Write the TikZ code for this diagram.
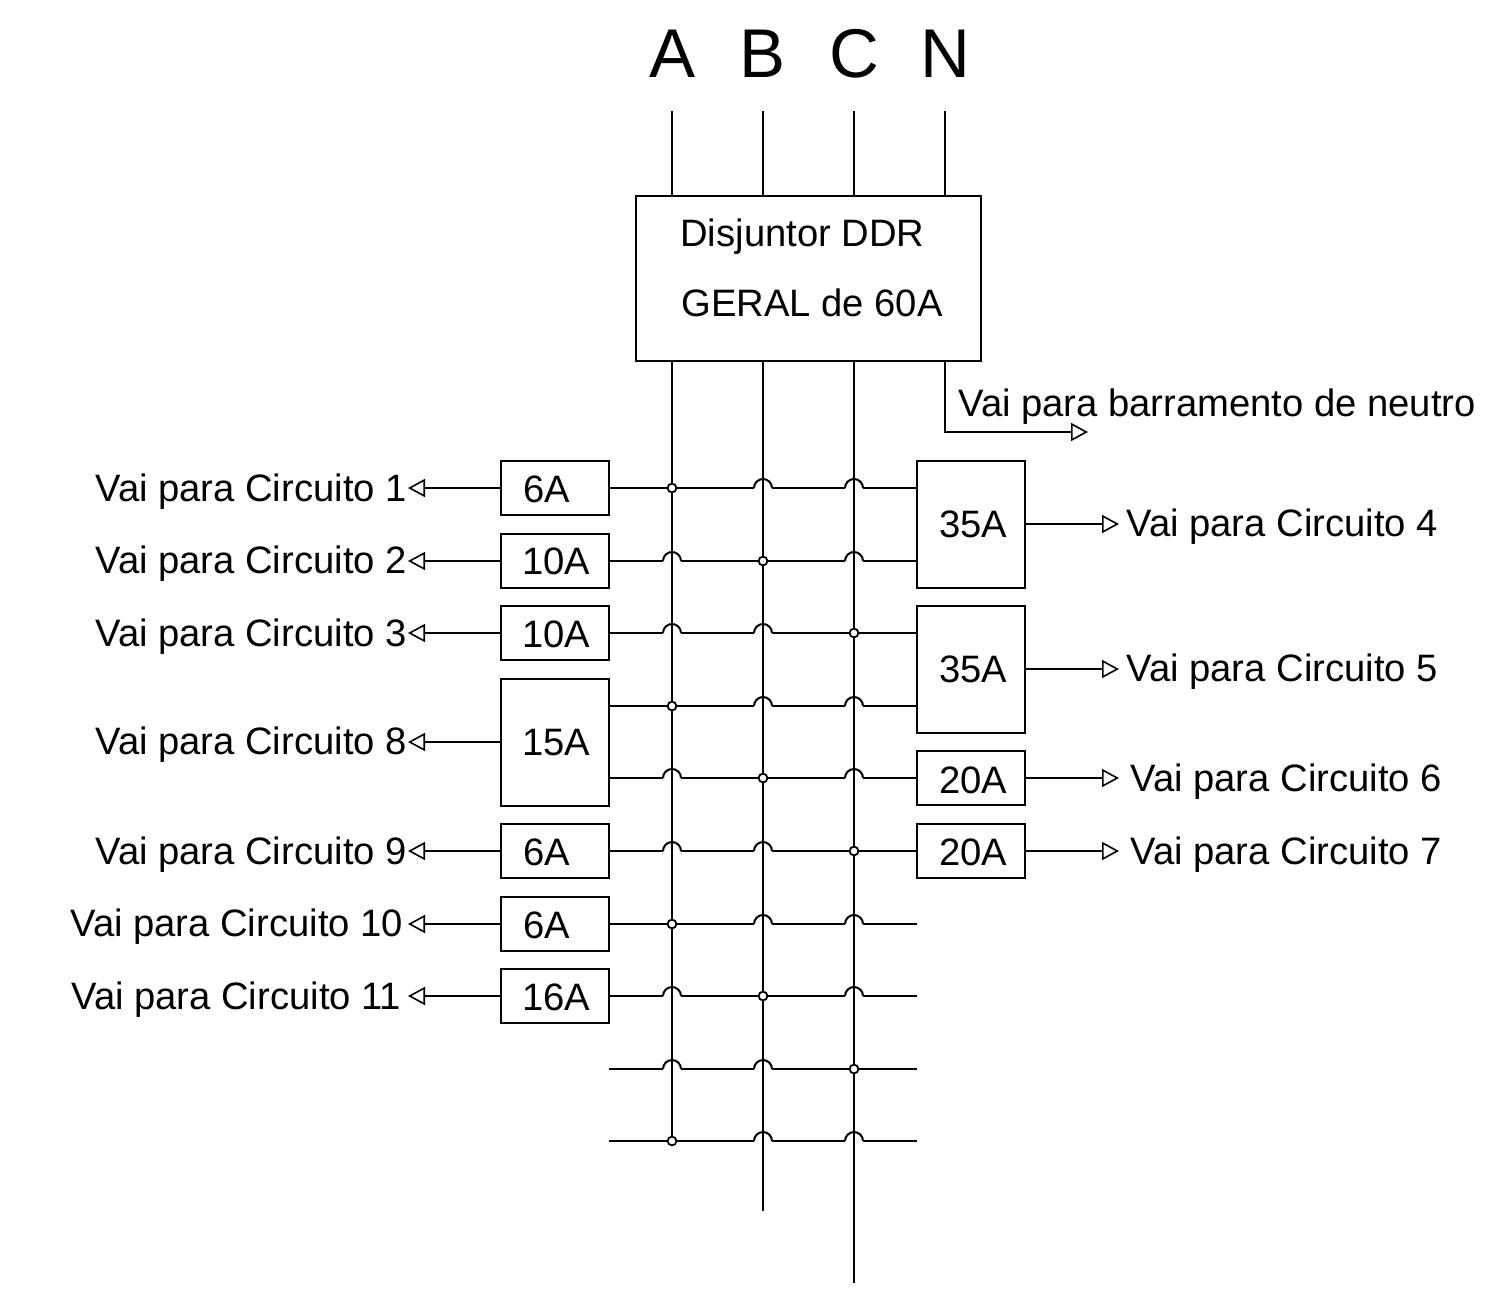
\documentclass[tikz,border=0pt]{standalone}
\usepackage{fontspec}
\setmainfont{Liberation Sans}
\usetikzlibrary{arrows.meta,calc}
\tikzset{
  wire/.style={line width=1pt,black},
  feed/.style={wire,-{Triangle[open,fill=white,length=8.5pt,width=9pt,line width=0.8pt]}},
  box/.style={draw,line width=1pt,inner sep=0pt,fill=white},
  lab/.style={anchor=base west,inner sep=0pt,font=\fontsize{19.1}{22}\selectfont},
  phase/.style={anchor=base,inner sep=0pt,font=\fontsize{34.5}{40}\selectfont},
  dotj/.style={circle,draw,fill=white,line width=0.9pt,minimum size=4.4pt,inner sep=0pt}
}
\newcommand{\bx}[5]{% name, x0, y0, x1, y1
  \node[box,minimum width={(#4-#2)*0.5pt},minimum height={(#5-#3)*0.5pt}] (#1) at ({(#2+#4)/2},{(#3+#5)/2}) {};}
\newcommand{\hop}[2]{\draw[wire] ([xshift=-4.5pt]#1 |- #2) arc[start angle=180,end angle=0,radius=4.5pt];}
% row: left end, right end, column of the junction
\newcommand{\busrow}[3]{%
  \ifnum#3=1
    \draw[wire] (#1) -- ([xshift=-4.5pt]vB |- #1);
    \hop{vB}{#1}
    \draw[wire] ([xshift=4.5pt]vB |- #1) -- ([xshift=-4.5pt]vC |- #1);
    \hop{vC}{#1}
    \draw[wire] ([xshift=4.5pt]vC |- #1) -- (#2);
    \node[dotj] (j#1) at (vA |- #1) {};
  \fi
  \ifnum#3=2
    \draw[wire] (#1) -- ([xshift=-4.5pt]vA |- #1);
    \hop{vA}{#1}
    \draw[wire] ([xshift=4.5pt]vA |- #1) -- ([xshift=-4.5pt]vC |- #1);
    \hop{vC}{#1}
    \draw[wire] ([xshift=4.5pt]vC |- #1) -- (#2);
    \node[dotj] (j#1) at (vB |- #1) {};
  \fi
  \ifnum#3=3
    \draw[wire] (#1) -- ([xshift=-4.5pt]vA |- #1);
    \hop{vA}{#1}
    \draw[wire] ([xshift=4.5pt]vA |- #1) -- ([xshift=-4.5pt]vB |- #1);
    \hop{vB}{#1}
    \draw[wire] ([xshift=4.5pt]vB |- #1) -- (#2);
    \node[dotj] (j#1) at (vC |- #1) {};
  \fi}
\begin{document}
\begin{tikzpicture}[x=0.5pt,y=-0.5pt]
\useasboundingbox[fill=white] (0,0) rectangle (1494,1291);
% phase labels
\node[phase] (lA) at (672.5,77) {A};
\node[phase] (lB) at (763,77) {B};
\node[phase] (lC) at (854,77) {C};
\node[phase] (lN) at (945,77) {N};
% vertical bus references
\coordinate (vA) at (672,111);
\coordinate (vB) at (763,111);
\coordinate (vC) at (854,111);
\coordinate (vN) at (945,111);
\coordinate (eA) at (672,1141);
\coordinate (eB) at (763,1211);
\coordinate (eC) at (854,1283);
% main breaker
\bx{ddr}{636}{196}{981}{361}
\draw[wire] (vA) -- (vA |- ddr.north);
\draw[wire] (vB) -- (vB |- ddr.north);
\draw[wire] (vC) -- (vC |- ddr.north);
\draw[wire] (vN) -- (vN |- ddr.north);
\draw[wire] (vA |- ddr.south) -- (eA);
\draw[wire] (vB |- ddr.south) -- (eB);
\draw[wire] (vC |- ddr.south) -- (eC);
\coordinate (ntip) at (1088,432);
\draw[feed] (vN |- ddr.south) |- (ntip);
\node[lab] (t1) at (680,246) {Disjuntor DDR};
\node[lab] (t2) at (681,316) {GERAL de 60A};
\node[lab] (tn) at (958,416) {Vai para barramento de neutro};
% left boxes
\bx{L1}{501}{461}{609}{515}
\bx{L2}{501}{534}{609}{588}
\bx{L3}{501}{606}{609}{660}
\bx{L8}{501}{679}{609}{806}
\bx{L9}{501}{824}{609}{878}
\bx{L10}{501}{897}{609}{951}
\bx{L11}{501}{969}{609}{1023}
% right boxes
\bx{R4}{917}{461}{1025}{588}
\bx{R5}{917}{606}{1025}{733}
\bx{R6}{917}{751}{1025}{805}
\bx{R7}{917}{824}{1025}{878}
% row end points
\foreach \n/\y in {1/488,2/561,3/633,4/706,5/778,6/851,7/924,8/996,9/1069,10/1141}{
  \coordinate (a\n) at (609,\y);
  \coordinate (b\n) at (917,\y);
}
\busrow{a1}{b1}{1}
\busrow{a2}{b2}{2}
\busrow{a3}{b3}{3}
\busrow{a4}{b4}{1}
\busrow{a5}{b5}{2}
\busrow{a6}{b6}{3}
\busrow{a7}{b7}{1}
\busrow{a8}{b8}{2}
\busrow{a9}{b9}{3}
\busrow{a10}{b10}{1}
% box texts
\node[lab] (bt1) at (523,502) {6A};
\node[lab] (bt2) at (522,574) {10A};
\node[lab] (bt3) at (522,647) {10A};
\node[lab] (bt8) at (522,755) {15A};
\node[lab] (bt9) at (523,865) {6A};
\node[lab] (bt10) at (523,938) {6A};
\node[lab] (bt11) at (522,1010) {16A};
\node[lab] (bt4) at (939,537) {35A};
\node[lab] (bt5) at (939,682) {35A};
\node[lab] (bt6) at (939,793) {20A};
\node[lab] (bt7) at (939,865) {20A};
% left feeders
\foreach \b/\y in {L1/488,L2/561,L3/633,L8/742,L9/851,L10/924,L11/996}{
  \coordinate (tip\b) at (408,\y);
  \draw[feed] (tip\b -| \b.west) -- (tip\b);
}
% right feeders
\foreach \b/\y in {R4/524,R5/669,R6/778,R7/851}{
  \coordinate (tip\b) at (1119,\y);
  \draw[feed] (tip\b -| \b.east) -- (tip\b);
}
% circuit labels
\node[lab] (c1) at (95,501) {Vai para Circuito 1};
\node[lab] (c2) at (95,573) {Vai para Circuito 2};
\node[lab] (c3) at (95,646) {Vai para Circuito 3};
\node[lab] (c8) at (95,754) {Vai para Circuito 8};
\node[lab] (c9) at (95,864) {Vai para Circuito 9};
\node[lab] (c10) at (70,936) {Vai para Circuito 10};
\node[lab] (c11) at (71,1009) {Vai para Circuito 11};
\node[lab] (c4) at (1126,536) {Vai para Circuito 4};
\node[lab] (c5) at (1126,681) {Vai para Circuito 5};
\node[lab] (c6) at (1130,791) {Vai para Circuito 6};
\node[lab] (c7) at (1130,864) {Vai para Circuito 7};
\end{tikzpicture}
\end{document}
